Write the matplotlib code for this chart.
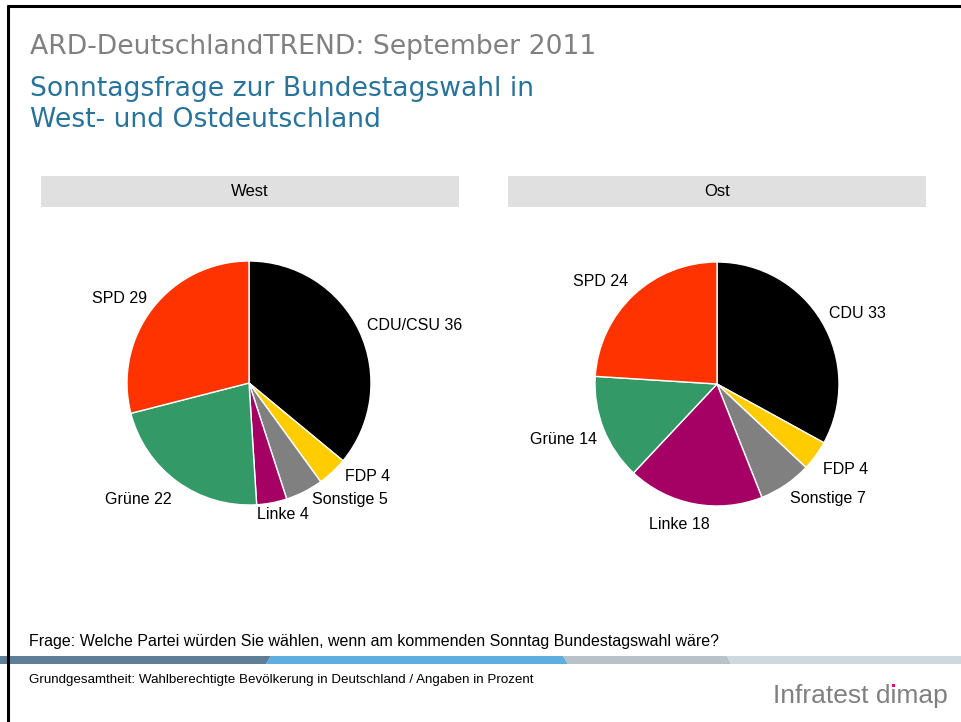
import matplotlib
matplotlib.use("Agg")
import matplotlib.pyplot as plt
from matplotlib.patches import Rectangle, Polygon
import numpy as np

plt.rcParams['font.family'] = ['Liberation Sans', 'DejaVu Sans']

# ---- data ----
parties_west = ["CDU/CSU", "FDP", "Sonstige", "Linke", "Grüne", "SPD"]
values_west = [36, 4, 5, 4, 22, 29]
parties_ost = ["CDU", "FDP", "Sonstige", "Linke", "Grüne", "SPD"]
values_ost = [33, 4, 7, 18, 14, 24]
colors = ["#000000", "#ffcc00", "#808080", "#a50063", "#339966", "#ff3300"]
panel_titles = ["West", "Ost"]

title = "ARD-DeutschlandTREND: September 2011"
subtitle_lines = ["Sonntagsfrage zur Bundestagswahl in", "West- und Ostdeutschland"]
question = "Frage: Welche Partei würden Sie wählen, wenn am kommenden Sonntag Bundestagswahl wäre?"
base_note = "Grundgesamtheit: Wahlberechtigte Bevölkerung in Deutschland / Angaben in Prozent"
brand = "Infratest dimap"

# label styling per slice: alignment and small nudges (pixels)
ha_west = ["left", "left", "left", "left", "right", "right"]
nudge_west = [(-3, 0), (4, 4), (2, 3), (-17, 0), (2, -8), (4, 2)]
ha_ost = ["left", "left", "left", "center", "right", "right"]
nudge_ost = [(-4, 2), (-3, -7), (-2, -4), (-12, -9), (5, -6), (3, 5)]

W, H = 961, 722
fig = plt.figure(figsize=(W / 100, H / 100), dpi=100)
fig.patch.set_facecolor("white")

# background axes in pixel coordinates
bg = fig.add_axes([0, 0, 1, 1])
bg.set_xlim(0, W)
bg.set_ylim(H, 0)
bg.axis("off")

# frame
bg.plot([7, W + 5], [5.5, 5.5], color="black", lw=2.2, solid_capstyle="butt")
bg.plot([7.5, 7.5], [5, H + 5], color="black", lw=2.2, solid_capstyle="butt")

# titles
tfam = ["DejaVu Sans"]
tsize = 19.2
bg.text(30, 54, title, fontsize=tsize, family=tfam, color="#808080", va="baseline", ha="left")
bg.text(30, 96, subtitle_lines[0], fontsize=tsize, family=tfam, color="#28739c",
        va="baseline", ha="left")
bg.text(30, 127, subtitle_lines[1], fontsize=tsize, family=tfam, color="#28739c",
        va="baseline", ha="left")

# header bars
for x0, t in zip([41, 508], panel_titles):
    bg.add_patch(Rectangle((x0, 176), 418, 31, facecolor="#e0e0e0", edgecolor="none"))
    bg.text(x0 + 209, 192, t, fontsize=12, ha="center", va="center", color="black")

# footer band
band = [
    ([(0, 656), (271, 656), (266, 664), (0, 664)], "#5f7f99"),
    ([(271, 656), (563, 656), (568, 664), (266, 664)], "#5eaee0"),
    ([(563, 656), (727, 656), (731, 664), (568, 664)], "#b9c1c9"),
    ([(727, 656), (W, 656), (W, 664), (731, 664)], "#cdd8df"),
]
for pts, c in band:
    bg.add_patch(Polygon(pts, closed=True, facecolor=c, edgecolor="none"))

bg.text(29, 646, question, fontsize=11.5, va="baseline", ha="left")
bg.text(29, 683, base_note, fontsize=9.6, va="baseline", ha="left")
btxt = bg.text(948, 703, brand, fontsize=19, color="#808080", va="baseline", ha="right")

# magenta dot over the "i" of "dimap"
fig.canvas.draw()
r = fig.canvas.get_renderer()
bb = btxt.get_window_extent(r)
fp = btxt.get_fontproperties()
w_all, _, _ = r.get_text_width_height_descent(brand, fp, ismath=False)
w_pre, _, _ = r.get_text_width_height_descent("Infratest d", fp, ismath=False)
w_i, _, _ = r.get_text_width_height_descent("i", fp, ismath=False)
x_left_px = bb.x1 - w_all
xi = x_left_px + w_pre + w_i / 2
bg.add_patch(Rectangle((xi - 1.7, 683.5), 3.4, 3.4, facecolor="#e6007e",
                       edgecolor="none", zorder=10))


def draw_pie(cx, cy, parties, values, has, nudges):
    R = 122
    half = 150
    ax = fig.add_axes([(cx - half) / W, (H - cy - half) / H, 2 * half / W, 2 * half / H])
    lim = half / R
    wedges, _ = ax.pie(values, colors=colors, startangle=90, counterclock=False,
                       radius=1, wedgeprops=dict(edgecolor="white", linewidth=1.0))
    for w, p, v, ha, nd in zip(wedges, parties, values, has, nudges):
        ang = np.deg2rad((w.theta1 + w.theta2) / 2)
        x, y = 1.1 * np.cos(ang), 1.1 * np.sin(ang)
        ax.annotate(f"{p} {v}", xy=(x, y), xytext=nd, textcoords="offset pixels",
                    ha=ha, va="center", fontsize=11.5)
    ax.set_xlim(-lim, lim)
    ax.set_ylim(-lim, lim)
    ax.set_aspect("equal")
    ax.axis("off")


draw_pie(249, 383, parties_west, values_west, ha_west, nudge_west)
draw_pie(717, 384, parties_ost, values_ost, ha_ost, nudge_ost)

fig.savefig("out.png", dpi=100, facecolor="white")
